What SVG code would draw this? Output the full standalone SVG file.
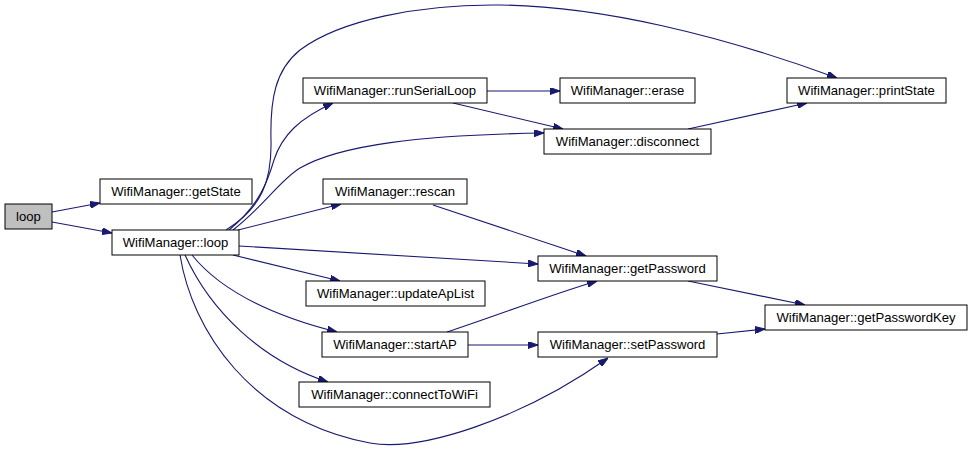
<svg xmlns="http://www.w3.org/2000/svg" width="973" height="449" viewBox="0 0 973 449">
<style>
.n rect{fill:#fff;stroke:#000;stroke-width:1}
.n text{font-family:"Liberation Sans",Arial,sans-serif;font-size:13.1px;fill:#000;text-anchor:middle}
.e path{fill:none;stroke:#191970;stroke-width:1.1}
</style>
<defs>
<marker id="a" viewBox="0 0 10 7" refX="10" refY="3.5" markerWidth="10" markerHeight="7" markerUnits="userSpaceOnUse" orient="auto">
<path d="M0,0 L10,3.5 L0,7 z" fill="#191970" stroke="#191970"/>
</marker>
</defs>
<rect width="973" height="449" fill="#fff"/>
<g class="e" marker-end="url(#a)">
<path marker-end="url(#a)" d="M52,212 L100,203"/>
<path marker-end="url(#a)" d="M52,222 L112,233"/>
<path marker-end="url(#a)" d="M226,230 C262,208 272,180 271,140 C270,100 275,70 300,50 C340,20 420,4 500,5 C600,6 720,35 837,78"/>
<path marker-end="url(#a)" d="M229,230 C260,205 268,180 274,160 C282,135 300,118 333,103"/>
<path marker-end="url(#a)" d="M233,230 C265,205 280,180 300,168 C340,145 420,135 544,133"/>
<path marker-end="url(#a)" d="M487,91 L560,91"/>
<path marker-end="url(#a)" d="M453,103 L563,129"/>
<path marker-end="url(#a)" d="M688,129 L807,103"/>
<path marker-end="url(#a)" d="M238,230 L341,204"/>
<path marker-end="url(#a)" d="M433,205 L586,256"/>
<path marker-end="url(#a)" d="M239,246 L538,264"/>
<path marker-end="url(#a)" d="M233,255 L340,281"/>
<path marker-end="url(#a)" d="M192,255 C220,290 270,315 337,332"/>
<path marker-end="url(#a)" d="M185,255 C210,310 260,360 328,382"/>
<path marker-end="url(#a)" d="M180,255 C192,330 250,420 370,443 C420,452 520,420 608,358"/>
<path marker-end="url(#a)" d="M447,332 C490,318 550,295 597,281"/>
<path marker-end="url(#a)" d="M468,345 L538,345"/>
<path marker-end="url(#a)" d="M717,334 L765,329"/>
<path marker-end="url(#a)" d="M688,281 L805,305"/>
</g>
<g id="loop" class="n"><rect x="5" y="204" width="47" height="25" style="fill:#bfbfbf"/><text x="28.5" y="221">loop</text></g>
<g id="getState" class="n"><rect x="100" y="179" width="152" height="25"/><text x="176" y="196">WifiManager::getState</text></g>
<g id="wmloop" class="n"><rect x="112" y="230" width="127" height="25"/><text x="175.5" y="247">WifiManager::loop</text></g>
<g id="runSerialLoop" class="n"><rect x="303" y="78" width="184" height="25"/><text x="395" y="95">WifiManager::runSerialLoop</text></g>
<g id="erase" class="n"><rect x="560" y="78" width="135" height="25"/><text x="627.5" y="95">WifiManager::erase</text></g>
<g id="disconnect" class="n"><rect x="544" y="129" width="167" height="25"/><text x="627.5" y="146">WifiManager::disconnect</text></g>
<g id="printState" class="n"><rect x="787" y="78" width="159" height="25"/><text x="866.5" y="95">WifiManager::printState</text></g>
<g id="rescan" class="n"><rect x="323" y="179" width="144" height="25"/><text x="395" y="196">WifiManager::rescan</text></g>
<g id="updateApList" class="n"><rect x="306" y="281" width="179" height="25"/><text x="395.5" y="298">WifiManager::updateApList</text></g>
<g id="getPassword" class="n"><rect x="538" y="256" width="179" height="25"/><text x="627.5" y="273">WifiManager::getPassword</text></g>
<g id="getPasswordKey" class="n"><rect x="765" y="305" width="202" height="25"/><text x="866" y="322">WifiManager::getPasswordKey</text></g>
<g id="setPassword" class="n"><rect x="538" y="332" width="179" height="25"/><text x="627.5" y="349">WifiManager::setPassword</text></g>
<g id="startAP" class="n"><rect x="322" y="332" width="146" height="25"/><text x="395" y="349">WifiManager::startAP</text></g>
<g id="connectToWiFi" class="n"><rect x="299" y="382" width="191" height="25"/><text x="394.5" y="399">WifiManager::connectToWiFi</text></g>
</svg>
